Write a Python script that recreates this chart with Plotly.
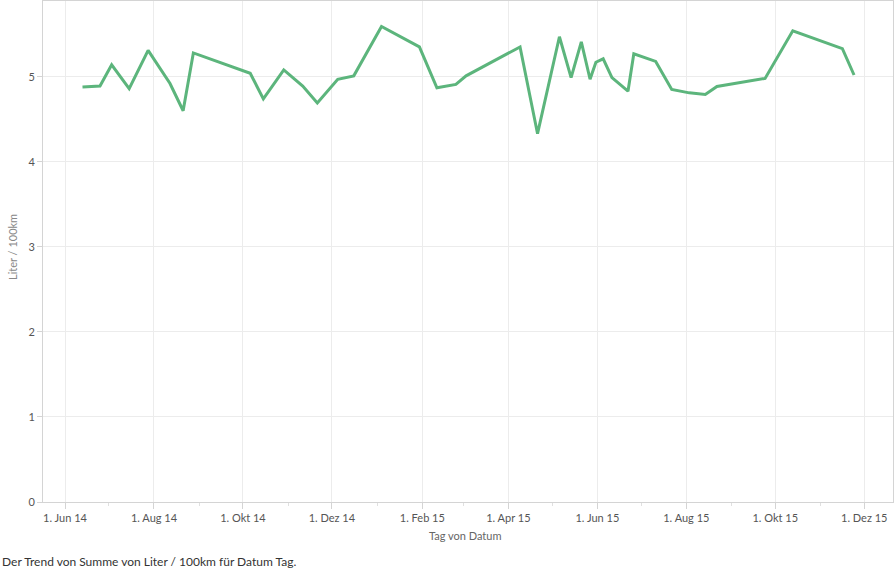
import plotly.graph_objects as go

dates = [
    "2014-06-13", "2014-06-25", "2014-07-03", "2014-07-15", "2014-07-28",
    "2014-08-12", "2014-08-21", "2014-08-28", "2014-10-06", "2014-10-15",
    "2014-10-29", "2014-11-11", "2014-11-21", "2014-12-05", "2014-12-16",
    "2015-01-04", "2015-01-30", "2015-02-11", "2015-02-24", "2015-03-03",
    "2015-04-09", "2015-04-21", "2015-05-06", "2015-05-14", "2015-05-21",
    "2015-05-27", "2015-05-31", "2015-06-05", "2015-06-11", "2015-06-22",
    "2015-06-26", "2015-07-11", "2015-07-22", "2015-08-03", "2015-08-14",
    "2015-08-22", "2015-09-24", "2015-10-13", "2015-11-16", "2015-11-24",
]
liter_100km = [
    4.88, 4.89, 5.14, 4.86, 5.31,
    4.92, 4.60, 5.28, 5.04, 4.74,
    5.08, 4.89, 4.69, 4.97, 5.01,
    5.59, 5.35, 4.87, 4.91, 5.01,
    5.35, 4.33, 5.47, 4.99, 5.41,
    4.97, 5.17, 5.21, 4.99, 4.83,
    5.27, 5.18, 4.85, 4.81, 4.79,
    4.885, 4.98, 5.54, 5.33, 5.02,
]

major_tick_vals = ["2014-06-01", "2014-08-01", "2014-10-01", "2014-12-01",
                   "2015-02-01", "2015-04-01", "2015-06-01", "2015-08-01",
                   "2015-10-01", "2015-12-01"]
major_tick_text = ["1. Jun 14", "1. Aug 14", "1. Okt 14", "1. Dez 14",
                   "1. Feb 15", "1. Apr 15", "1. Jun 15", "1. Aug 15",
                   "1. Okt 15", "1. Dez 15"]
minor_tick_vals = ["2014-07-01", "2014-09-01", "2014-11-01", "2015-01-01",
                   "2015-03-01", "2015-05-01", "2015-07-01", "2015-09-01",
                   "2015-11-01"]
y_tick_vals = [0, 1, 2, 3, 4, 5]

x_title = "Tag von Datum"
y_title = "Liter / 100km"
caption = "Der Trend von Summe von Liter / 100km für Datum Tag."

W, H = 894, 571
ML, MR, MT, MB = 43, 1, 1, 69
PW = W - ML - MR
PH = H - MT - MB

fig = go.Figure()
fig.add_trace(go.Scatter(
    x=dates, y=liter_100km, mode="lines",
    line=dict(color="#5cb57c", width=3),
    hoverinfo="skip",
))

axis_line = "#d4d4d4"
grid = "#ececec"

fig.update_layout(
    width=W, height=H,
    margin=dict(l=ML, r=MR, t=MT, b=MB),
    paper_bgcolor="white", plot_bgcolor="white",
    showlegend=False,
    font=dict(family="Lato", size=11, color="#555555"),
    xaxis=dict(
        type="date",
        range=["2014-05-16 22:00", "2015-12-20 17:00"],
        tickvals=major_tick_vals, ticktext=major_tick_text,
        ticks="outside", ticklen=6, tickcolor=axis_line, tickwidth=1,
        showgrid=True, gridcolor=grid, gridwidth=1,
        showline=True, linecolor=axis_line, linewidth=1, mirror=True,
        zeroline=False,
        minor=dict(tickvals=minor_tick_vals, ticks="outside", ticklen=3,
                   tickcolor="#e0e0e0", showgrid=False),
        tickfont=dict(size=11, color="#555555"),
    ),
    yaxis=dict(
        range=[0, 5.89],
        tickvals=y_tick_vals,
        ticks="outside", ticklen=5, tickcolor=axis_line, tickwidth=1,
        showgrid=True, gridcolor=grid, gridwidth=1,
        showline=True, linecolor=axis_line, linewidth=1, mirror=True,
        zeroline=False,
        tickfont=dict(size=11, color="#555555"),
    ),
)

def px_x(px):
    return (px - ML) / PW

def px_y(py):
    return (H - MB - py) / PH

fig.add_annotation(
    text=y_title, textangle=-90, showarrow=False,
    xref="paper", yref="paper", x=px_x(12), y=px_y(247),
    xanchor="center", yanchor="middle",
    font=dict(family="Lato", size=11, color="#888888"),
)
fig.add_annotation(
    text=x_title, showarrow=False,
    xref="paper", yref="paper", x=px_x(465), y=px_y(535),
    xanchor="center", yanchor="middle",
    font=dict(family="Lato", size=11, color="#666666"),
)
fig.add_annotation(
    text=caption, showarrow=False,
    xref="paper", yref="paper", x=px_x(0), y=px_y(561),
    xanchor="left", yanchor="middle",
    font=dict(family="Lato", size=12, color="#333333"),
)

fig.write_html(
    "out.html",
    config={"displayModeBar": False},
    post_script="document.body.style.margin='0';document.body.style.overflow='hidden';",
)
